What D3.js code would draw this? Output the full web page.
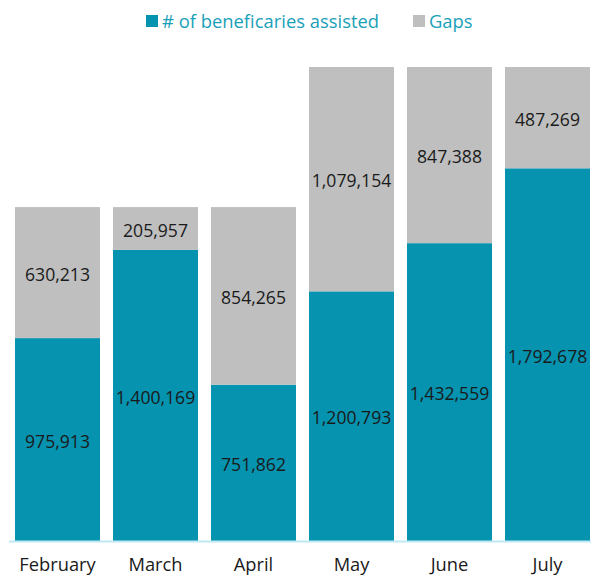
<!DOCTYPE html>
<html><head><meta charset="utf-8">
<script src="https://cdn.jsdelivr.net/npm/d3@7"></script>
<style>body{margin:0;background:#fff}svg{display:block}</style>
</head><body>
<svg id="c" width="591" height="578"></svg>
<script>
const categories = ["February","March","April","May","June","July"];
const assisted = [975913,1400169,751862,1200793,1432559,1792678];
const gaps = [630213,205957,854265,1079154,847388,487269];
const seriesNames = ["# of beneficaries assisted","Gaps"];
const colors = ["#0593b0","#bfbfbf"];

const svg = d3.select("#c");
const font = "'Open Sans', sans-serif";
const x = d3.scaleBand().domain(categories).range([8.5,596.5]).paddingInner(0.1327).paddingOuter(0.0663);
const totalMax = d3.max(categories, (c,i)=>assisted[i]+gaps[i]);
const y = d3.scaleLinear().domain([0,totalMax]).range([541,67]);

const rows = categories.map((c,i)=>({cat:c, assisted:assisted[i], gaps:gaps[i]}));
const stack = d3.stack().keys(["assisted","gaps"])(rows);
const fmt = d3.format(",");

stack.forEach((layer,li)=>{
  const g = svg.append("g");
  g.selectAll("rect").data(layer).join("rect")
    .attr("x", d=>x(d.data.cat))
    .attr("width", x.bandwidth())
    .attr("y", d=>y(d[1]))
    .attr("height", d=>y(d[0])-y(d[1]))
    .attr("fill", colors[li]);
  g.selectAll("text").data(layer).join("text")
    .attr("x", d=>x(d.data.cat)+x.bandwidth()/2)
    .attr("y", d=>(y(d[0])+y(d[1]))/2 + 2)
    .attr("dy","0.35em")
    .attr("text-anchor","middle")
    .attr("font-family",font).attr("font-size",17.6)
    .attr("fill","#1a1a1a")
    .text(d=>fmt(d[1]-d[0]));
});

// baseline axis
const ax = svg.append("g").attr("transform","translate(0,541.5)")
  .call(d3.axisBottom(x).tickSize(0).tickPadding(17));
ax.select(".domain").attr("stroke","#bfe9f2").attr("stroke-width",2).attr("d","M9,0H591");
ax.selectAll("text").attr("font-family",font).attr("font-size",18.3).attr("fill","#1a1a1a");

// legend
const legend = [{x:146},{x:413}];
legend.forEach((l,i)=>{
  svg.append("rect").attr("x",l.x).attr("y",15).attr("width",12).attr("height",12).attr("fill",colors[i]);
  svg.append("text").attr("x",l.x+16).attr("y",28).attr("font-family",font).attr("font-size",18.4)
    .attr("fill","#1a9fb8").text(seriesNames[i]);
});
</script>
</body></html>
